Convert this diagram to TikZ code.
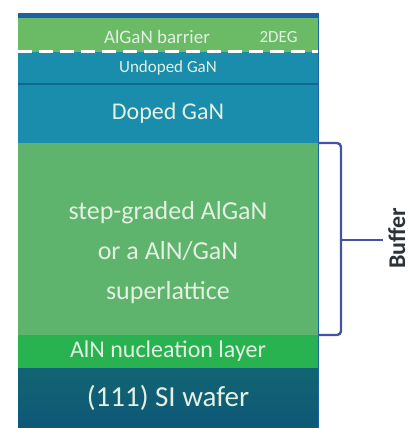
\documentclass[tikz,border=0pt]{standalone}
\usepackage{fontspec}
\setmainfont{Carlito}
\usetikzlibrary{positioning}

\definecolor{capblue}{RGB}{28,96,166}
\definecolor{barriergreen}{RGB}{106,186,102}
\definecolor{gante}{RGB}{26,140,172}
\definecolor{ganline}{RGB}{14,104,144}
\definecolor{buffergreen}{RGB}{94,180,108}
\definecolor{nucgreen}{RGB}{40,178,80}
\definecolor{wafertop}{RGB}{18,100,114}
\definecolor{waferbot}{RGB}{14,88,120}
\definecolor{labeltext}{RGB}{228,240,226}
\definecolor{bracketblue}{RGB}{68,84,164}
\definecolor{sidetext}{RGB}{44,50,58}

\tikzset{
  layer/.style={minimum width=300pt, inner sep=0pt, outer sep=0pt,
    text=labeltext, align=center},
  bracket/.style={draw=bracketblue, line width=2.4pt, rounded corners=4pt}
}

\begin{document}
\begin{tikzpicture}[x=1pt, y=-1pt]
        \useasboundingbox (0,0) rectangle (411,428);

        % the layer stack, top to bottom
        \node[layer, anchor=north west, fill=capblue, minimum height=5pt] (cap) at (18,13) {};
        \node[layer, below=0pt of cap, fill=barriergreen, minimum height=34pt] (barrier) {};
        \node[layer, below=0pt of barrier, fill=gante, minimum height=32pt,
              font=\fontsize{17}{20}\selectfont] (undoped) {Undoped GaN};
        \node[layer, below=0pt of undoped, fill=gante, minimum height=59pt,
              font=\fontsize{24}{28}\selectfont] (doped) {Doped GaN};
        \node[layer, below=0pt of doped, fill=buffergreen, minimum height=192pt] (buffer) {};
        \node[layer, below=0pt of buffer, fill=nucgreen, minimum height=33pt,
              font=\fontsize{24}{28}\selectfont] (nucleation) {AlN nucleation layer};
        \node[layer, below=0pt of nucleation, top color=wafertop, bottom color=waferbot,
              minimum height=60pt, font=\fontsize{29}{32}\selectfont] (wafer) {(111) SI wafer};

        % labels of the barrier and buffer
        \node[text=labeltext, font=\fontsize{19}{22}\selectfont] (barriertext)
              at ([xshift=-11pt,yshift=-2pt]barrier.center) {AlGaN barrier};
        \node[text=labeltext, font=\fontsize{17}{20}\selectfont, anchor=east] (tdeg)
              at ([xshift=-17pt,yshift=-2pt]barrier.east) {2DEG};
        \node[text=labeltext, align=center, font=\fontsize{26}{40}\selectfont] (buffertext)
              at ([yshift=-14pt]buffer.center) {step-graded AlGaN\\or a AlN/GaN\\superlattice};

        % 2DEG line and layer edges
        \draw[white, line width=3pt, dash pattern=on 14pt off 7pt] (barrier.south west) -- (barrier.south east);
        \draw[ganline, line width=1.5pt] (undoped.south west) -- (undoped.south east);
        \draw[capblue, line width=0.8pt] (cap.north east) -- (wafer.south east);

        % bracket over the buffer
        \coordinate (btop) at (341,143);
        \coordinate (bbot) at (341,335);
        \coordinate (bmid) at (341,240);
        \coordinate (btip) at (383,240);
        \draw[bracket] (buffer.north east) -- (btop) -- (bbot) -- (buffer.south east);
        \draw[bracket] (bmid) -- (btip);
        \node[rotate=90, anchor=base, inner sep=0pt, text=sidetext,
              font=\fontsize{24}{28}\selectfont\bfseries] (buffername)
              at (405,238) {Buffer};
    \end{tikzpicture}
\end{document}
